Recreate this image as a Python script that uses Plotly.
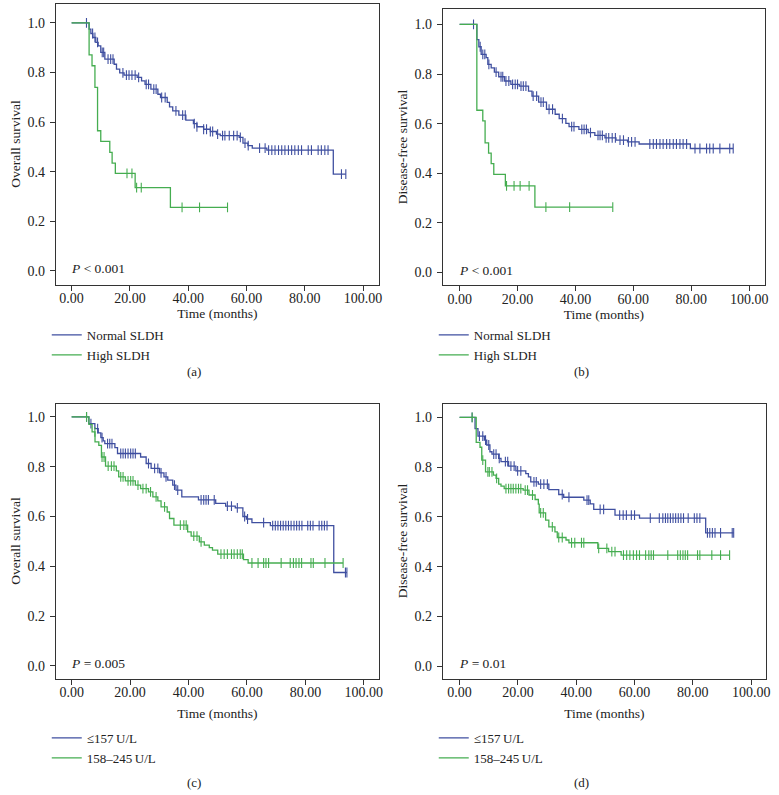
import numpy as np
import plotly.graph_objects as go

# ---------------- data ----------------
# (a) overall survival by SLDH
a_norm_t = [0, 6.0, 6.6, 7.3, 8.3, 9.1, 10.0, 11.4, 14.6, 15.4, 16.5, 18.0, 22.5, 24.0, 25.2, 27.2,
            29.6, 30.5, 32.8, 33.6, 34.7, 36.8, 39.2, 41.8, 43.0, 45.3, 47.6, 49.7, 51.0, 57.5,
            58.8, 60.5, 62.0, 67.0, 89.8]
a_norm_s = [1.0, 0.975, 0.957, 0.941, 0.921, 0.907, 0.881, 0.854, 0.833, 0.813, 0.798, 0.789, 0.78,
            0.766, 0.752, 0.733, 0.712, 0.699, 0.679, 0.661, 0.645, 0.628, 0.608, 0.594, 0.581,
            0.571, 0.562, 0.551, 0.545, 0.538, 0.515, 0.505, 0.495, 0.487, 0.39]
a_norm_c = [5.1, 7.2, 8.0, 8.9, 10.5, 11.0, 12.5, 13.4, 14.2, 17.6, 18.8, 19.7, 20.7, 21.8, 23.0,
            25.6, 26.4, 28.2, 29.0, 30.9, 32.1, 35.8, 38.1, 39.0, 42.1, 43.0, 45.3, 46.3, 47.6,
            48.4, 50.1, 51.8, 52.6, 54.1, 55.6, 56.8, 57.9, 59.5, 60.6, 64.5, 66.4, 67.6, 68.7,
            69.8, 71.0, 72.1, 73.2, 74.4, 75.5, 76.6, 77.8, 78.9, 81.2, 82.3, 84.6, 85.7, 86.9,
            88.0, 92.6, 94.1]
a_high_t = [0, 6.0, 7.0, 8.0, 8.9, 10.0, 13.1, 13.9, 15.0, 21.8, 33.9]
a_high_s = [1.0, 0.871, 0.827, 0.74, 0.565, 0.522, 0.478, 0.434, 0.393, 0.336, 0.256]
a_high_c = [19.0, 20.7, 22.3, 23.9, 37.9, 43.9, 53.5]

# (b) disease-free survival by SLDH
b_norm_t = [0, 5.96, 6.64, 7.44, 9.16, 9.74, 10.9, 12.0, 13.5, 15.5, 17.7, 20.6, 23.8, 25.0, 27.3,
            30.0, 33.0, 34.4, 36.7, 37.8, 41.2, 44.4, 46.7, 50.2, 54.0, 58.0, 62.0, 79.7]
b_norm_s = [1.0, 0.939, 0.91, 0.879, 0.866, 0.839, 0.825, 0.808, 0.789, 0.772, 0.758, 0.751, 0.731,
            0.711, 0.687, 0.658, 0.638, 0.62, 0.601, 0.588, 0.577, 0.564, 0.553, 0.543, 0.534,
            0.527, 0.518, 0.50]
b_norm_c = [4.8, 7.1, 8.0, 8.7, 10.1, 12.6, 14.3, 14.9, 16.0, 17.0, 18.3, 19.2, 20.0, 21.2, 22.0,
            22.9, 25.4, 26.6, 28.1, 28.9, 30.9, 32.1, 35.5, 38.7, 39.5, 42.2, 43.0, 43.8, 45.2,
            47.8, 48.5, 49.3, 50.6, 51.5, 52.7, 53.8, 55.4, 56.6, 58.3, 59.4, 60.6, 65.7, 66.9,
            68.0, 69.2, 70.3, 71.5, 72.6, 73.8, 74.9, 76.1, 77.2, 78.4, 81.3, 83.0, 85.3, 86.4,
            87.6, 89.9, 93.3, 94.5]
b_high_t = [0, 5.95, 8.0, 8.8, 10.0, 10.9, 11.8, 15.8, 26.0]
b_high_s = [1.0, 0.654, 0.611, 0.523, 0.481, 0.439, 0.396, 0.349, 0.264]
b_high_c = [16.2, 18.8, 20.9, 24.0, 29.8, 38.0, 52.9]

# (c) overall survival by LDH level
c_low_t = [0, 5.9, 7.95, 9.1, 10.0, 10.8, 11.35, 14.8, 15.7, 23.6, 25.5, 27.2, 30.1, 31.6, 32.9,
           34.6, 35.7, 37.7, 43.4, 49.3, 52.7, 56.0, 58.6, 59.8, 61.7, 68.0, 89.7]
c_low_s = [1.0, 0.973, 0.953, 0.936, 0.917, 0.904, 0.893, 0.877, 0.853, 0.839, 0.813, 0.793, 0.775,
           0.759, 0.746, 0.726, 0.706, 0.679, 0.667, 0.653, 0.642, 0.635, 0.60, 0.59, 0.575,
           0.563, 0.375]
c_low_c = [5.1, 6.6, 8.9, 10.4, 12.3, 13.05, 13.8, 16.8, 17.6, 18.4, 19.3, 20.2, 21.0, 21.8, 26.3,
           28.4, 29.5, 30.6, 32.3, 35.2, 36.3, 44.3, 45.2, 46.0, 46.8, 48.8, 53.3, 54.7, 56.7,
           59.2, 60.2, 65.7, 68.8, 69.7, 70.6, 71.5, 72.4, 73.3, 74.2, 75.1, 76.1, 77.0, 77.9,
           78.8, 80.8, 81.7, 82.6, 84.7, 85.6, 86.5, 87.4, 93.7, 94.2]
c_mid_t = [0, 5.9, 7.0, 8.0, 9.3, 10.2, 11.6, 15.3, 16.1, 18.4, 21.8, 23.6, 26.3, 27.8, 29.5, 30.6,
           32.7, 33.5, 35.0, 39.7, 40.9, 43.7, 45.4, 47.1, 48.2, 50.0, 58.8, 60.4]
c_mid_s = [1.0, 0.97, 0.94, 0.90, 0.886, 0.839, 0.802, 0.783, 0.759, 0.743, 0.726, 0.712, 0.699,
           0.679, 0.663, 0.639, 0.618, 0.592, 0.565, 0.538, 0.521, 0.498, 0.485, 0.475, 0.465,
           0.449, 0.427, 0.413]
c_mid_c = [5.1, 7.95, 10.4, 11.1, 12.5, 13.6, 14.5, 16.8, 17.6, 19.3, 20.2, 21.0, 22.7, 24.4, 25.5,
           27.0, 28.9, 31.8, 37.2, 38.4, 39.2, 41.8, 42.9, 44.3, 51.1, 52.2, 53.3, 54.7, 55.6,
           56.7, 57.7, 58.4, 61.7, 63.8, 65.7, 66.5, 67.4, 71.7, 74.8, 75.9, 76.8, 77.8, 78.7,
           81.9, 82.7, 86.7, 92.9]

# (d) disease-free survival by LDH level
d_low_t = [0, 5.3, 6.3, 8.5, 9.3, 10.4, 11.1, 13.4, 14.2, 16.8, 19.3, 22.7, 23.6, 24.4, 27.0,
           30.6, 34.0, 35.7, 42.6, 44.8, 46.0, 53.3, 61.7, 84.4]
d_low_s = [1.0, 0.955, 0.925, 0.909, 0.889, 0.862, 0.852, 0.835, 0.822, 0.804, 0.785, 0.774, 0.761,
           0.741, 0.732, 0.71, 0.69, 0.679, 0.667, 0.652, 0.63, 0.607, 0.595, 0.536]
d_low_c = [4.3, 6.8, 7.95, 8.9, 10.0, 11.7, 12.5, 13.6, 15.7, 16.5, 17.6, 18.7, 19.9, 21.0, 25.5,
           26.3, 27.8, 28.9, 30.1, 35.2, 37.5, 43.7, 44.3, 48.2, 49.4, 54.9, 56.1, 57.2, 58.9,
           60.0, 65.4, 68.5, 69.7, 70.6, 71.4, 72.3, 73.2, 74.1, 75.0, 75.9, 76.8, 78.4, 80.5,
           81.4, 82.4, 85.0, 85.8, 86.7, 87.6, 89.5, 93.5, 94.0]
d_mid_t = [0, 5.7, 7.0, 7.6, 8.9, 11.6, 12.5, 13.4, 14.2, 15.3, 21.8, 23.8, 25.9, 27.0, 27.3, 29.5,
           30.6, 32.7, 33.5, 36.5, 37.5, 47.4, 51.1, 55.4]
d_mid_s = [1.0, 0.90, 0.88, 0.828, 0.781, 0.768, 0.755, 0.732, 0.724, 0.714, 0.708, 0.688, 0.67,
           0.651, 0.616, 0.587, 0.56, 0.54, 0.517, 0.507, 0.496, 0.473, 0.46, 0.446]
d_mid_c = [4.3, 7.95, 9.7, 10.2, 11.1, 12.7, 15.9, 16.8, 17.6, 18.4, 19.3, 20.2, 21.0, 22.5, 23.3,
           25.0, 27.8, 28.7, 31.8, 34.0, 35.2, 38.4, 39.5, 41.8, 42.6, 47.7, 50.5, 52.2, 53.3,
           56.2, 57.3, 58.4, 59.6, 60.7, 61.7, 63.8, 64.9, 65.7, 66.5, 71.4, 74.8, 75.7, 76.6,
           77.4, 78.2, 81.6, 82.4, 86.5, 89.5, 92.6]

sldh_names = ["Normal SLDH", "High SLDH"]
ldh_names = ["\u2264157\u2009U/L", "158\u2013245\u2009U/L"]
y_titles = ["Overall survival", "Disease-free survival", "Overall survival", "Disease-free survival"]
p_texts = ["<i>P</i> < 0.001", "<i>P</i> < 0.001", "<i>P</i> = 0.005", "<i>P</i> = 0.01"]
captions = ["(a)", "(b)", "(c)", "(d)"]

BLUE = "#3f4fa0"
GREEN = "#45ad50"
FONT = "Liberation Serif"
W, H = 779, 795

# box = (left, right, top, bottom) in px; cap / leg = anchor positions in px
panels = [
    dict(curves=[(a_norm_t, a_norm_s, a_norm_c), (a_high_t, a_high_s, a_high_c)], names=sldh_names,
         box=(56, 381, 3.5, 284.5), xr=[-5.46, 105.5], yr=[-0.055, 1.078],
         cap=(195, 371), leg=(47, 320), tstand=3),
    dict(curves=[(b_norm_t, b_norm_s, b_norm_c), (b_high_t, b_high_s, b_high_c)], names=sldh_names,
         box=(445, 769, 9, 285), xr=[-5.84, 105.5], yr=[-0.05, 1.062],
         cap=(585, 371), leg=(436, 320), tstand=3),
    dict(curves=[(c_low_t, c_low_s, c_low_c), (c_mid_t, c_mid_s, c_mid_c)], names=ldh_names,
         box=(56, 381, 403.5, 678.5), xr=[-5.45, 105.2], yr=[-0.051, 1.054],
         cap=(195, 782), leg=(47, 723), tstand=9),
    dict(curves=[(d_low_t, d_low_s, d_low_c), (d_mid_t, d_mid_s, d_mid_c)], names=ldh_names,
         box=(445, 770, 403.5, 678.5), xr=[-5.79, 105.1], yr=[-0.05, 1.056],
         cap=(585, 782), leg=(436, 723), tstand=9),
]


def surv_at(times, surv, t):
    idx = np.searchsorted(np.array(times), np.array(t), side="right") - 1
    return np.array(surv)[idx]


fig = go.Figure()
axis_font = dict(family=FONT, size=14, color="#222")
layout = dict()

for i, p in enumerate(panels, start=1):
    sfx = "" if i == 1 else str(i)
    xa, ya = "x" + sfx, "y" + sfx
    leg = "legend" + sfx
    for (t, s, c), col, name in zip(p["curves"], [BLUE, GREEN], p["names"]):
        end = max(max(c), t[-1])
        fig.add_trace(go.Scatter(x=list(t) + [end], y=list(s) + [s[-1]], mode="lines",
                                 line=dict(color=col, width=1.3, shape="hv"),
                                 xaxis=xa, yaxis=ya, showlegend=False, hoverinfo="skip"))
        fig.add_trace(go.Scatter(x=c, y=surv_at(t, s, c), mode="markers",
                                 marker=dict(symbol="line-ns", size=7,
                                             line=dict(color=col, width=1.1)),
                                 xaxis=xa, yaxis=ya, showlegend=False))
        fig.add_trace(go.Scatter(x=[None], y=[None], mode="lines", name=name,
                                 line=dict(color=col, width=1.3), xaxis=xa, yaxis=ya,
                                 legend=leg, showlegend=True))

    l, r, top, bot = p["box"]
    layout["xaxis" + sfx] = dict(
        domain=[l / W, r / W], range=p["xr"], anchor=ya, tick0=0, dtick=20, tickformat=".2f",
        showline=True, linecolor="#333", linewidth=1, mirror=True, ticks="outside", ticklen=5,
        tickcolor="#333", showgrid=False, zeroline=False, tickfont=axis_font, ticklabelstandoff=-4,
        title=dict(text="Time (months)", font=dict(family=FONT, size=13.5, color="#222"),
                   standoff=p["tstand"]))
    layout["yaxis" + sfx] = dict(
        domain=[1 - bot / H, 1 - top / H], range=p["yr"], anchor=xa, tick0=0, dtick=0.2,
        tickformat=".1f", showline=True, linecolor="#333", linewidth=1, mirror=True,
        ticks="outside", ticklen=5, tickcolor="#333", showgrid=False, zeroline=False,
        tickfont=axis_font, ticklabelstandoff=2,
        title=dict(text=y_titles[i - 1], font=dict(family=FONT, size=13.5, color="#222"), standoff=3))
    lx, ly = p["leg"]
    layout[leg] = dict(x=lx / W, y=1 - ly / H, xanchor="left", yanchor="top", xref="paper",
                       yref="paper", bgcolor="rgba(0,0,0,0)", itemwidth=30, tracegroupgap=0,
                       font=dict(family=FONT, size=13, color="#222"))
    fig.add_annotation(x=-1.0, y=0.01, xref=xa, yref=ya, text=p_texts[i - 1], showarrow=False,
                       xanchor="left", yanchor="middle",
                       font=dict(family=FONT, size=13.5, color="#222"))
    cx, cy = p["cap"]
    fig.add_annotation(x=cx / W, y=1 - cy / H, xref="paper", yref="paper", text=captions[i - 1],
                       showarrow=False, xanchor="center", yanchor="middle",
                       font=dict(family=FONT, size=13, color="#222"))

fig.update_layout(**layout)
fig.update_layout(width=W, height=H, margin=dict(l=0, r=0, t=0, b=0),
                  paper_bgcolor="white", plot_bgcolor="white")

fig.write_html("out.html", config={"displayModeBar": False},
               post_script="document.body.style.margin='0px';")
